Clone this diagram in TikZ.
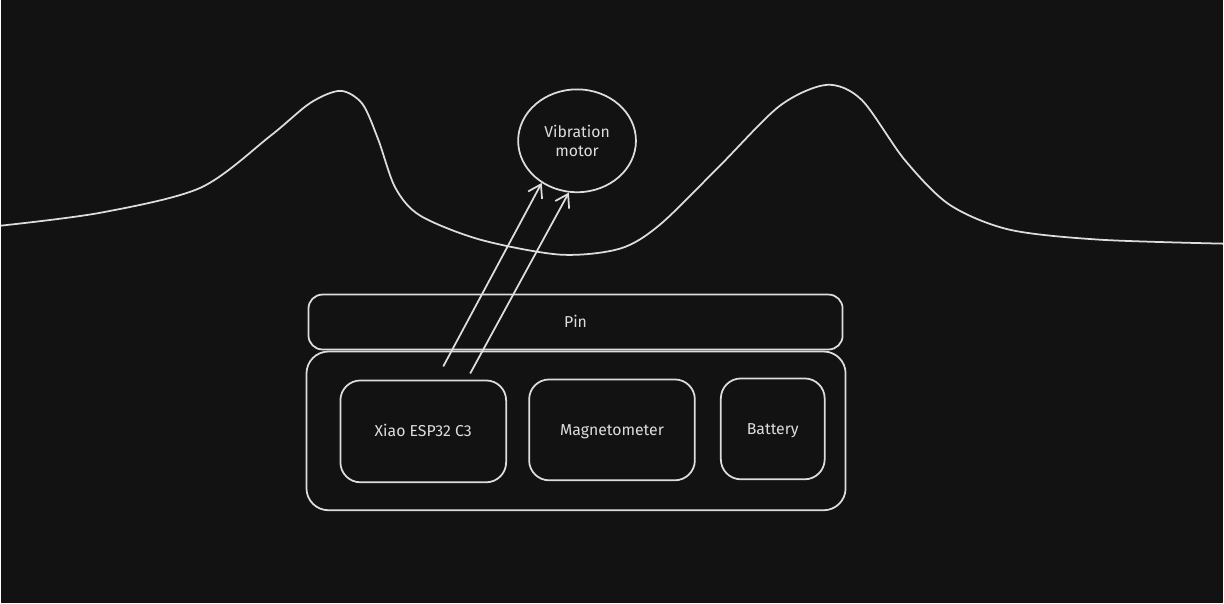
\documentclass[tikz,border=0pt]{standalone}
\usepackage{fontspec}
\setmainfont{Fira Sans}
\usetikzlibrary{shapes.geometric,arrows.meta}
\definecolor{bgdark}{HTML}{121212}
\definecolor{inkgray}{HTML}{DDDDDD}
\begin{document}
\begin{tikzpicture}[x=0.02cm,y=-0.02cm,
	every node/.style={font=\fontsize{9}{11}\selectfont,text=inkgray},
	block/.style={rectangle,rounded corners=0.4cm,draw=inkgray,line width=1pt,inner sep=0pt,text height=1.6ex,text depth=0.4ex},
	link/.style={draw=inkgray,line width=1pt,-{Straight Barb[length=7pt,width=9pt]}}]
	\fill[bgdark] (0,0) rectangle (1224,604);
	
	% the hills
	\draw[inkgray,line width=1pt] plot[smooth,tension=0.5] coordinates {(0,226) (100,213) (200,188) (270,136) (310,103) (340,91) (362,104) (378,140) (395,188) (420,216) (480,240) (560,255) (620,249) (660,225) (720,166) (780,106) (827,85) (862,100) (905,160) (950,205) (1010,230) (1100,240) (1224,244)};
	
	\node[ellipse,draw=inkgray,line width=1pt,minimum width=2.36cm,minimum height=2.06cm,align=center,inner sep=0pt] (motor) at (577,141) {Vibration\\motor};
	\begin{scope}
		\node[block,rounded corners=0.28cm,minimum width=10.7cm,minimum height=1.1cm] (pin) at (575.5,322.5) {Pin};
		\node[block,rounded corners=0.44cm,minimum width=10.8cm,minimum height=3.18cm] (body) at (576,431.5) {};
		\node[block,minimum width=3.32cm,minimum height=2.04cm] (xiao) at (423,432) {Xiao ESP32 C3};
		\node[block,minimum width=3.32cm,minimum height=2.02cm] (magnet) at (612,430.5) {Magnetometer};
		\node[block,minimum width=2.08cm,minimum height=2.02cm] (battery) at (773,429.5) {Battery};
	\end{scope}
	
	\coordinate (wire1) at (443,367);
	\coordinate (wire2) at (470,374);
	\draw[link] (wire1) -- (motor.230);
	\draw[link] (wire2) -- (motor.261);
\end{tikzpicture}
\end{document}
